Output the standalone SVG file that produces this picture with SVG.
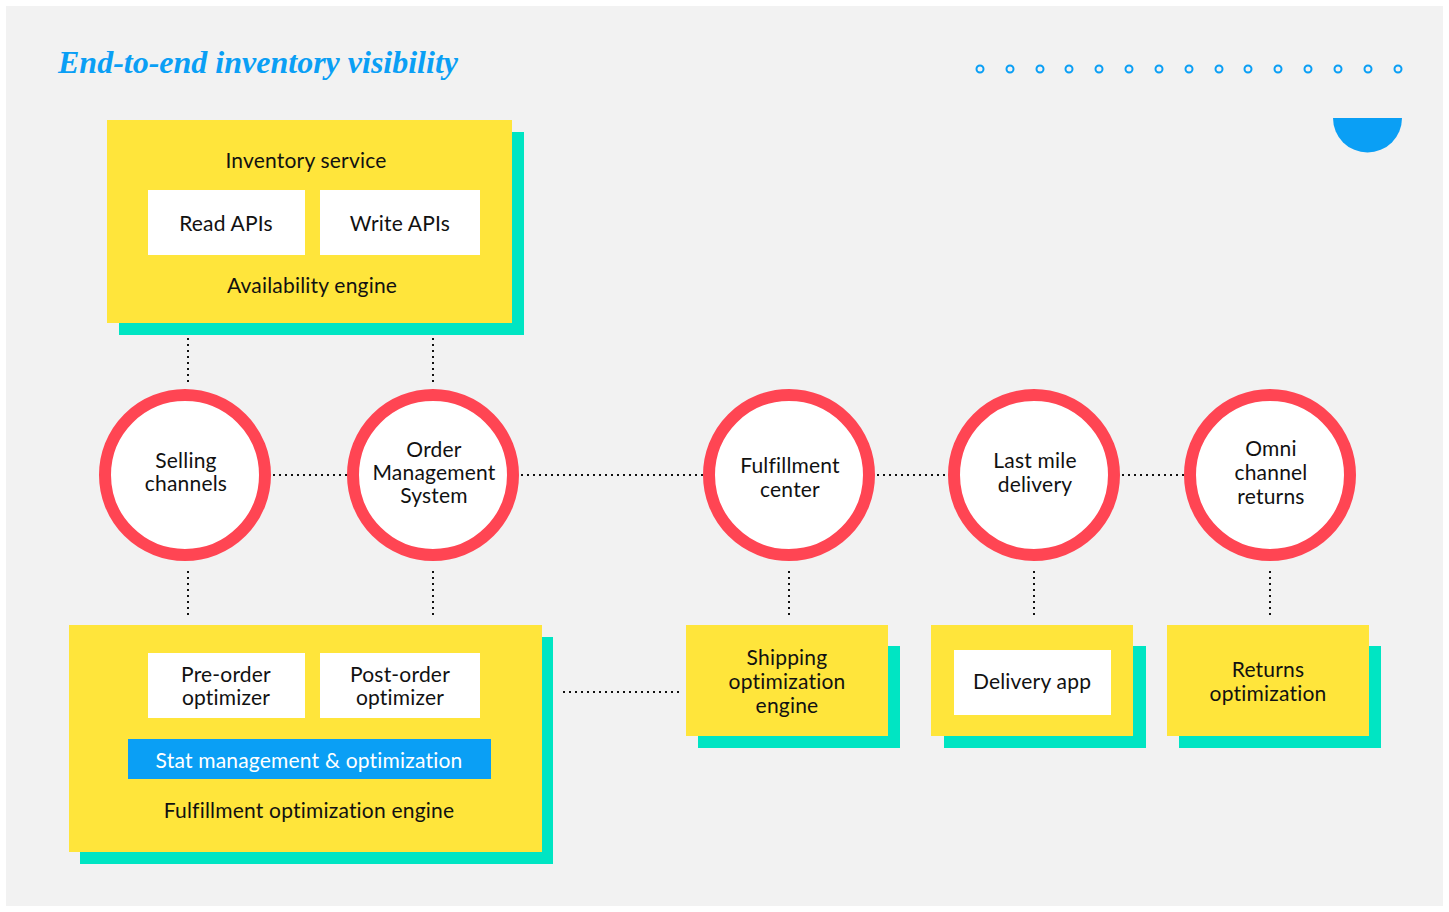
<svg xmlns="http://www.w3.org/2000/svg" width="1449" height="912" viewBox="0 0 1449 912">
<style>
.t{font-family:Lato,"Liberation Sans",sans-serif;font-size:21px;letter-spacing:0.2px;fill:#111;text-anchor:middle}
.w{fill:#fff}
.y{fill:#ffe53b}
.g{fill:#00e5c3}
.ring{fill:#fff;stroke:#ff4553;stroke-width:12}
.dot{stroke:#111;stroke-width:2;stroke-dasharray:2 4;fill:none}
.hd{fill:none;stroke:#0a9ff5;stroke-width:2}
</style>
<rect x="0" y="0" width="1449" height="912" fill="#fff"/>
<rect x="6" y="6" width="1437" height="900" fill="#f2f2f2"/>
<text x="58" y="73" font-family="'Liberation Serif',serif" font-style="italic" font-weight="bold" font-size="32" fill="#0a9ff5">End-to-end inventory visibility</text>
<g id="decor">
<circle class="hd" cx="980" cy="69" r="3.5"/><circle class="hd" cx="1010" cy="69" r="3.5"/><circle class="hd" cx="1040" cy="69" r="3.5"/><circle class="hd" cx="1069" cy="69" r="3.5"/><circle class="hd" cx="1099" cy="69" r="3.5"/><circle class="hd" cx="1129" cy="69" r="3.5"/><circle class="hd" cx="1159" cy="69" r="3.5"/><circle class="hd" cx="1189" cy="69" r="3.5"/><circle class="hd" cx="1219" cy="69" r="3.5"/><circle class="hd" cx="1248" cy="69" r="3.5"/><circle class="hd" cx="1278" cy="69" r="3.5"/><circle class="hd" cx="1308" cy="69" r="3.5"/><circle class="hd" cx="1338" cy="69" r="3.5"/><circle class="hd" cx="1368" cy="69" r="3.5"/><circle class="hd" cx="1398" cy="69" r="3.5"/>
<path d="M1333 118 H1402 A34.5 34.5 0 0 1 1333 118 Z" fill="#0a9ff5"/>
</g>
<g id="connectors">
<line class="dot" x1="188" y1="338" x2="188" y2="384"/>
<line class="dot" x1="433" y1="338" x2="433" y2="384"/>
<line class="dot" x1="188" y1="571" x2="188" y2="617"/>
<line class="dot" x1="433" y1="571" x2="433" y2="617"/>
<line class="dot" x1="789" y1="571" x2="789" y2="617"/>
<line class="dot" x1="1034" y1="571" x2="1034" y2="617"/>
<line class="dot" x1="1270" y1="571" x2="1270" y2="617"/>
<line class="dot" x1="273" y1="475" x2="347" y2="475"/>
<line class="dot" x1="521" y1="475" x2="703" y2="475"/>
<line class="dot" x1="877" y1="475" x2="948" y2="475"/>
<line class="dot" x1="1122" y1="475" x2="1184" y2="475"/>
<line class="dot" x1="563" y1="692" x2="679" y2="692"/>
</g>
<g id="inventory-service">
<rect class="g" x="119" y="132" width="405" height="203"/>
<rect class="y" x="107" y="120" width="405" height="203"/>
<text class="t" x="306" y="168">Inventory service</text>
<rect class="w" x="148" y="190" width="157" height="65"/>
<text class="t" x="226" y="231">Read APIs</text>
<rect class="w" x="320" y="190" width="160" height="65"/>
<text class="t" x="400" y="231">Write APIs</text>
<text class="t" x="312" y="293">Availability engine</text>
</g>
<g id="selling-channels">
<circle class="ring" cx="185" cy="475" r="80"/>
<text class="t" x="186" y="468">Selling</text>
<text class="t" x="186" y="491">channels</text>
</g>
<g id="oms">
<circle class="ring" cx="433" cy="475" r="80"/>
<text class="t" x="434" y="457">Order</text>
<text class="t" x="434" y="480">Management</text>
<text class="t" x="434" y="503">System</text>
</g>
<g id="fulfillment-center">
<circle class="ring" cx="789" cy="475" r="80"/>
<text class="t" x="790" y="473">Fulfillment</text>
<text class="t" x="790" y="497">center</text>
</g>
<g id="last-mile">
<circle class="ring" cx="1034" cy="475" r="80"/>
<text class="t" x="1035" y="468">Last mile</text>
<text class="t" x="1035" y="492">delivery</text>
</g>
<g id="omni-returns">
<circle class="ring" cx="1270" cy="475" r="80"/>
<text class="t" x="1271" y="456">Omni</text>
<text class="t" x="1271" y="480">channel</text>
<text class="t" x="1271" y="504">returns</text>
</g>
<g id="fulfillment-optimization-engine">
<rect class="g" x="80" y="637" width="473" height="227"/>
<rect class="y" x="69" y="625" width="473" height="227"/>
<rect class="w" x="148" y="653" width="157" height="65"/>
<text class="t" x="226" y="682">Pre-order</text>
<text class="t" x="226" y="705">optimizer</text>
<rect class="w" x="320" y="653" width="160" height="65"/>
<text class="t" x="400" y="682">Post-order</text>
<text class="t" x="400" y="705">optimizer</text>
<rect x="128" y="739" width="363" height="40" fill="#0a9ff5"/>
<text class="t" x="309" y="768" style="fill:#fff">Stat management &amp; optimization</text>
<text class="t" x="309" y="818">Fulfillment optimization engine</text>
</g>
<g id="shipping">
<rect class="g" x="698" y="646" width="202" height="102"/>
<rect class="y" x="686" y="625" width="202" height="111"/>
<text class="t" x="787" y="665">Shipping</text>
<text class="t" x="787" y="689">optimization</text>
<text class="t" x="787" y="713">engine</text>
</g>
<g id="delivery-app">
<rect class="g" x="944" y="646" width="202" height="102"/>
<rect class="y" x="931" y="625" width="202" height="111"/>
<rect class="w" x="954" y="650" width="157" height="65"/>
<text class="t" x="1032" y="689">Delivery app</text>
</g>
<g id="returns-optimization">
<rect class="g" x="1179" y="646" width="202" height="102"/>
<rect class="y" x="1167" y="625" width="202" height="111"/>
<text class="t" x="1268" y="677">Returns</text>
<text class="t" x="1268" y="701">optimization</text>
</g>
</svg>
